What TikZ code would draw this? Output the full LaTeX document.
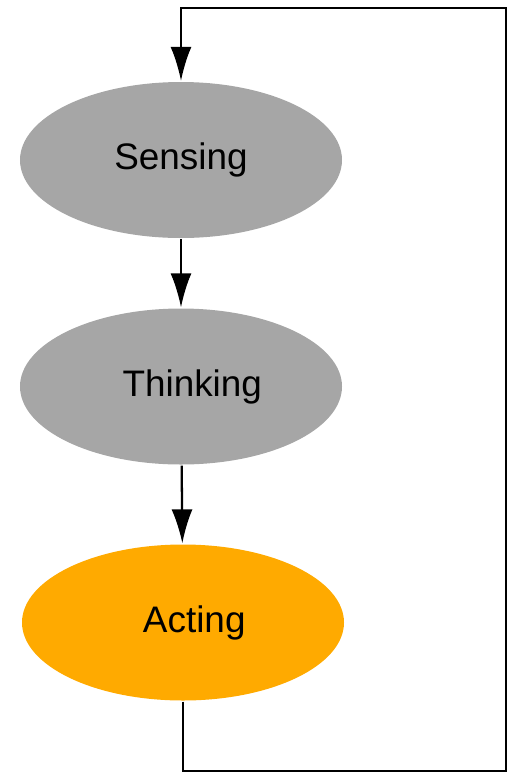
\documentclass[tikz,border=0pt]{standalone}
\usepackage{fontspec}
\setmainfont{Liberation Sans}
\usetikzlibrary{shapes.geometric,arrows.meta}
\definecolor{stategray}{RGB}{166,166,166}
\definecolor{actorange}{RGB}{255,170,0}
\begin{document}
\begin{tikzpicture}[>={Latex[length=6.8mm,width=4.2mm]},line width=1.3pt,
  phase/.style={ellipse,draw=none,fill=stategray,minimum width=6.44cm,
    minimum height=3.12cm,inner sep=0pt,font=\fontsize{21}{25}\selectfont}]
  \useasboundingbox (0,0) rectangle (10.2,-15.46);
  % Phases
  \node[phase] (sense) at (3.62,-3.2) {Sensing};
  \node[phase] (think) at (3.62,-7.73) {\hspace{0.45cm}Thinking};
  \node[phase,fill=actorange] (act) at (3.66,-12.45) {\hspace{0.45cm}Acting};

  \draw[->] (sense) -- (think);
  \draw[->] (think) -- (act);

  % Feedback loop
  \coordinate (c1) at (act.south |- 0,-15.42);
  \coordinate (c2) at (10.12,-15.42);
  \coordinate (c3) at (10.12,-0.16);
  \coordinate (c4) at (sense.north |- 0,-0.16);
  \draw[->] (act.south) -- (c1) -- (c2) -- (c3) -- (c4) -- (sense.north);
\end{tikzpicture}
\end{document}
